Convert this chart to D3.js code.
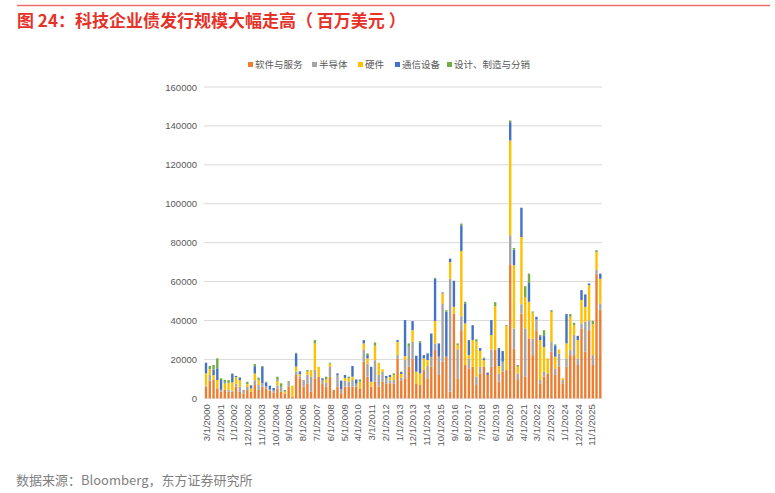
<!DOCTYPE html>
<html>
<head>
<meta charset="utf-8">
<script src="https://cdn.jsdelivr.net/npm/d3@7"></script>
<style>
  body { margin: 0; background: #fff; }
  text { font-family: "Noto Sans CJK SC", "Liberation Sans", sans-serif; }
</style>
</head>
<body>
<script>
// quarterly issuance, USD mn, 3/2000 .. 6/2026
const software = [
  6000, 9000, 9400, 5100, 3400, 4300, 3400, 3400, 6000, 3400, 2500, 4300, 3400, 6800, 4300, 6000,
  5100, 4000, 3000, 5100, 3400, 2500, 6000, 900, 12000, 10300, 6000, 7400, 3400, 10300, 11000, 7700,
  6000, 11000, 4300, 6000, 2600, 6000, 6000, 6000, 6000, 5100, 18800, 11100, 6000, 8500, 6000, 8500,
  7700, 7700, 7700, 20500, 9000,
  10300, 16200, 20500, 7700, 6800, 14500, 10300, 16200, 24800, 12000, 18800, 21400, 3400, 43600, 10300, 35000,
  17100, 15400, 16200, 6800, 12800, 16200, 12000, 16200, 24800, 8500, 13700, 14500, 68900, 25600, 9400, 43600,
  11100, 30800, 22200, 35000, 7700, 11100, 12800, 23900, 12000, 16200, 7700, 16200, 22200, 22200, 17100, 35900,
  23900, 35000, 17100, 64100, 45600
];
const semis = [
  500, 3000, 0, 0, 1000, 0, 1000, 500, 1500, 2500, 1800, 1500, 0, 2500, 2500, 1700,
  1000, 500, 1000, 1500, 2500, 0, 2900, 0, 1700, 1000, 3400, 4600, 7700, 4300, 0, 1700,
  2000, 5100, 0, 6000, 2000, 3000, 2500, 3400, 1500, 0, 6000, 6800, 0, 11100, 6000, 5100,
  2500, 1500, 1700, 1700, 1500,
  9400, 10300, 8500, 0, 0, 0, 6300, 5100, 3400, 9400, 30000, 0, 58100, 0, 14900, 7200,
  0, 5100, 0, 4300, 3400, 0, 0, 8900, 0, 4300, 5100, 0, 14900, 10300, 3400, 4800,
  24800, 0, 8500, 5500, 1700, 2500, 0, 5100, 3400, 6800, 1700, 4300, 2600, 10300, 3400, 2600,
  15400, 5100, 5100, 2000, 3000
];
const hardware = [
  6300, 3000, 2500, 4300, 0, 3400, 3400, 4300, 3400, 3400, 0, 1500, 1700, 3400, 2500, 0,
  0, 0, 0, 2500, 0, 900, 0, 5600, 2600, 1000, 0, 1700, 3400, 13600, 5200, 0,
  1700, 1700, 0, 0, 0, 1500, 1700, 1700, 0, 3400, 3400, 2600, 2500, 7400, 6300, 1300,
  0, 1700, 2600, 6800, 2000,
  2000, 0, 6000, 6000, 6000, 6000, 3100, 0, 11600, 0, 5100, 0, 8500, 3400, 2200, 33500,
  21400, 1700, 13700, 18000, 8200, 3400, 0, 7400, 22600, 3800, 0, 22600, 48700, 32500, 3400, 34500,
  15900, 18800, 13300, 0, 20500, 12800, 7700, 15400, 6000, 2100, 900, 7700, 17100, 5100, 9400, 12000,
  7700, 18000, 15900, 9100, 12800
];
const comms = [
  5500, 0, 2900, 6000, 5000, 500, 0, 4300, 600, 1400, 0, 0, 1500, 3800, 0, 8500,
  2000, 2000, 1300, 500, 0, 0, 0, 0, 6800, 1500, 0, 0, 0, 0, 0, 900,
  0, 0, 0, 800, 4500, 1500, 0, 5500, 2200, 0, 1700, 1700, 7700, 0, 0, 0,
  1300, 1100, 0, 900, 1000,
  18500, 0, 4700, 8200, 15800, 1700, 3400, 12000, 21800, 6800, 500, 23100, 1800, 13400, 0, 13200,
  10300, 7700, 7700, 0, 1400, 900, 1200, 7700, 0, 9200, 5500, 0, 9400, 8000, 0, 15000,
  0, 9700, 0, 1400, 2000, 6000, 0, 0, 5800, 0, 0, 15100, 0, 0, 2200, 5100,
  6400, 900, 0, 0, 2700
];
const design = [
  0, 1600, 2300, 5100, 900, 1200, 1600, 300, 0, 100, 0, 1200, 200, 1100, 1300, 400,
  400, 0, 0, 1500, 1800, 900, 0, 0, 300, 200, 0, 800, 0, 1700, 0, 0,
  1400, 500, 0, 0, 0, 0, 900, 0, 0, 1200, 0, 900, 0, 1700, 0, 0,
  0, 0, 800, 0, 200,
  0, 1700, 0, 0, 800, 0, 0, 0, 300, 0, 0, 800, 0, 0, 800, 900,
  800, 0, 0, 1200, 0, 400, 0, 0, 2000, 0, 0, 500, 900, 900, 900, 100,
  5800, 4800, 600, 0, 600, 2600, 0, 900, 500, 0, 0, 0, 1400, 1200, 0, 0,
  0, 0, 1700, 900, 0
];

const seriesNames = ['软件与服务', '半导体', '硬件', '通信设备', '设计、制造与分销'];
const seriesColors = ['#ED7D31', '#A5A5A5', '#FFC000', '#4472C4', '#70AD47'];
const tickLabels = [
  '3/1/2000', '2/1/2001', '1/1/2002', '12/1/2002', '11/1/2003', '10/1/2004', '9/1/2005',
  '8/1/2006', '7/1/2007', '6/1/2008', '5/1/2009', '4/1/2010', '3/1/2011', '2/1/2012',
  '1/1/2013', '12/1/2013', '11/1/2014', '10/1/2015', '9/1/2016', '8/1/2017', '7/1/2018',
  '6/1/2019', '5/1/2020', '4/1/2021', '3/1/2022', '2/1/2023', '1/1/2024', '12/1/2024', '11/1/2025'
];
const yTicks = [0, 20000, 40000, 60000, 80000, 100000, 120000, 140000, 160000];

const W = 775, H = 493;
const plot = { left: 204, right: 602, top: 87, bottom: 398.3 };

// quarter dates: Mar, Jun, Sep, Dec
const startDate = new Date(Date.UTC(2000, 2, 1));
const endDate = new Date(Date.UTC(2026, 5, 1));
const quarters = d3.utcMonth.range(startDate, new Date(Date.UTC(2026, 5, 2)), 3);

const rows = quarters.map((d, i) => ({
  date: d,
  [seriesNames[0]]: software[i],
  [seriesNames[1]]: semis[i],
  [seriesNames[2]]: hardware[i],
  [seriesNames[3]]: comms[i],
  [seriesNames[4]]: design[i]
}));

const svg = d3.select('body').append('svg')
  .attr('width', W)
  .attr('height', H)
  .style('background', '#fff');

// header
svg.append('line')
  .attr('x1', 17).attr('x2', 770)
  .attr('y1', 5.5).attr('y2', 5.5)
  .attr('stroke', '#EE6B6B').attr('stroke-width', 1.5);

svg.append('text')
  .attr('x', 17).attr('y', 27)
  .attr('fill', '#E6332A')
  .style('font-size', '17px')
  .style('font-weight', 'bold')
  .text('图 24：科技企业债发行规模大幅走高（ 百万美元 ）');

const x = d3.scaleUtc()
  .domain([startDate, endDate])
  .range([206, 600.3]);

const y = d3.scaleLinear()
  .domain([0, 160000])
  .range([plot.bottom, plot.top]);

const color = d3.scaleOrdinal().domain(seriesNames).range(seriesColors);

// gridlines
svg.append('g')
  .selectAll('line')
  .data(yTicks)
  .join('line')
  .attr('x1', plot.left).attr('x2', plot.right)
  .attr('y1', d => y(d)).attr('y2', d => y(d))
  .attr('stroke', '#D9D9D9')
  .attr('stroke-width', 1);

// y axis labels
const yAxis = d3.axisLeft(y)
  .tickValues(yTicks)
  .tickSize(0)
  .tickPadding(0)
  .tickFormat(d3.format('d'));

const yAxisGroup = svg.append('g')
  .attr('transform', 'translate(197,0)')
  .call(yAxis);
yAxisGroup.select('.domain').remove();
yAxisGroup.selectAll('text')
  .attr('fill', '#595959')
  .style('font-size', '9.5px')
  .style('font-family', '"Liberation Sans", Arial, sans-serif');

// stacked bars
const stacked = d3.stack().keys(seriesNames)(rows);
const barW = 2.4;

svg.append('g')
  .selectAll('g')
  .data(stacked)
  .join('g')
  .attr('fill', d => color(d.key))
  .selectAll('rect')
  .data(d => d)
  .join('rect')
  .attr('x', d => x(d.data.date) - barW / 2)
  .attr('width', barW)
  .attr('y', d => y(d[1]))
  .attr('height', d => Math.max(0, y(d[0]) - y(d[1])));

// x axis labels (rotated)
const parseDate = d3.utcParse('%m/%d/%Y');
const xAxis = d3.axisBottom(x)
  .tickValues(tickLabels.map(parseDate))
  .tickSize(0)
  .tickPadding(0)
  .tickFormat((d, i) => tickLabels[i]);

const xAxisGroup = svg.append('g')
  .attr('transform', `translate(0,${plot.bottom})`)
  .call(xAxis);
xAxisGroup.select('.domain').remove();
xAxisGroup.selectAll('text')
  .attr('fill', '#595959')
  .style('font-size', '9.5px')
  .style('font-family', '"Liberation Sans", Arial, sans-serif')
  .attr('text-anchor', 'end')
  .attr('dy', '0.35em')
  .attr('transform', 'translate(0,6) rotate(-90)')
  .attr('y', 0)
  .attr('x', 0);

// legend
const legendX = [248, 312, 358, 395, 447];
const legend = svg.append('g')
  .selectAll('g')
  .data(seriesNames)
  .join('g')
  .attr('transform', (d, i) => `translate(${legendX[i]},65)`);
legend.append('rect')
  .attr('x', 0).attr('y', -3)
  .attr('width', 5).attr('height', 5)
  .attr('fill', d => color(d));
legend.append('text')
  .attr('x', 7).attr('y', 0)
  .attr('dy', '0.35em')
  .attr('fill', '#595959')
  .style('font-size', '9.5px')
  .text(d => d);

// source
svg.append('text')
  .attr('x', 16).attr('y', 485)
  .attr('fill', '#7F7F7F')
  .style('font-size', '13px')
  .text('数据来源：Bloomberg，东方证券研究所');
</script>
</body>
</html>
